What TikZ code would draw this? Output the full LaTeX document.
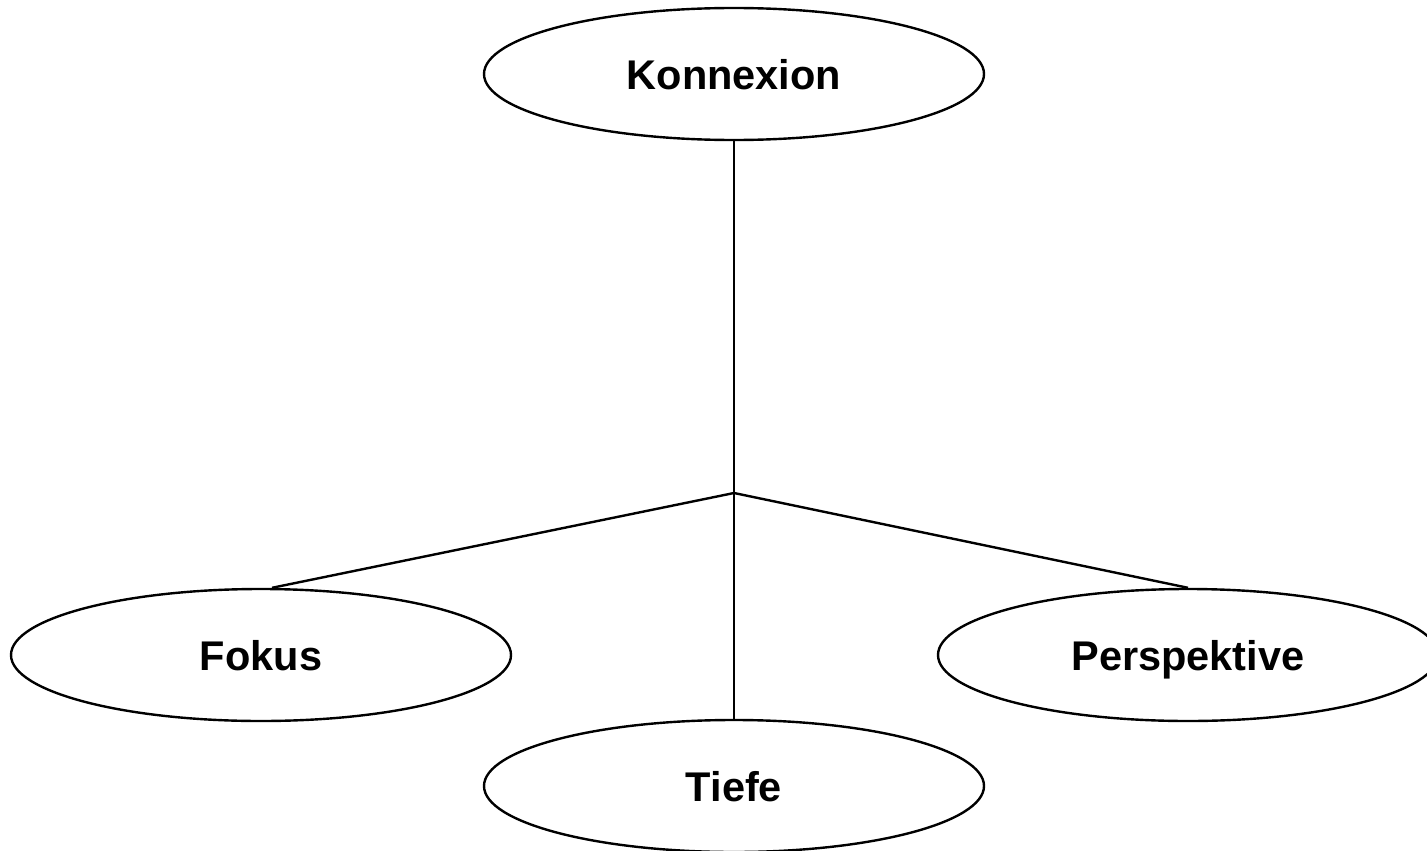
\documentclass[tikz,border=0pt]{standalone}
\usepackage{fontspec}
\setmainfont{Liberation Sans}
\usetikzlibrary{shapes.geometric}
\begin{document}
\begin{tikzpicture}[x=1pt,y=-1pt,
  ell/.style={ellipse,draw,line width=2.4pt,minimum width=500pt,minimum height=132pt,inner sep=0pt,
    text depth=0pt,font=\fontsize{41.5}{48}\selectfont\bfseries},
  conn/.style={line width=2.4pt}]
\useasboundingbox (0,0) rectangle (1427,851);
\node[ell] (kon) at (734,74) {Konnexion};
\node[ell] (fok) at (261,655) {Fokus};
\node[ell] (tie) at (734,786) {Tiefe};
\node[ell] (per) at (1188,655) {Perspektive};
\coordinate (j) at (734,493);
\draw[conn] (kon.south) -- (j);
\draw[conn] (j) -- ([xshift=11pt]fok.north);
\draw[conn] (j) -- (per.north);
\draw[conn] (j) -- (tie.north);
\end{tikzpicture}
\end{document}
